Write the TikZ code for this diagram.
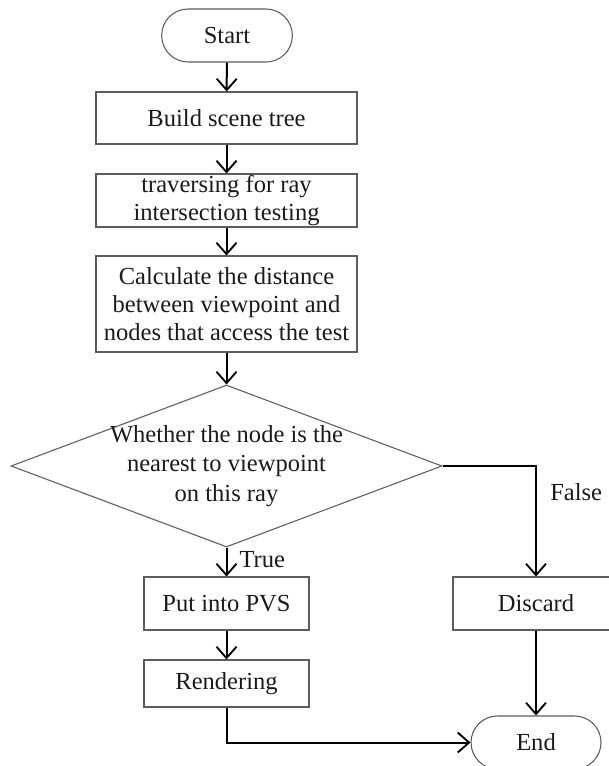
\documentclass[tikz,border=0pt]{standalone}
\usepackage{fontspec}
\setmainfont{Liberation Serif}
\usetikzlibrary{shapes.geometric,arrows.meta}
\definecolor{boxgray}{HTML}{5C5C5C}
\definecolor{txt}{HTML}{1A1A1A}
\begin{document}
\begin{tikzpicture}[x=0.75pt,y=-0.75pt,
  base/.style={inner sep=0pt, align=center, text=txt, font=\fontsize{18.4}{21}\selectfont},
  box/.style={base, draw=boxgray, line width=0.8pt},
  term/.style={box, rounded corners=19.8pt, minimum width=98pt, minimum height=39.75pt},
  decide/.style={draw=boxgray, line width=0.8pt, shape=diamond, inner sep=0pt, minimum width=323.25pt, minimum height=121.5pt},
  conn/.style={draw=black, line width=1.5pt, -{Straight Barb[length=8.5pt,width=15pt,line width=1.4pt]}},
  lbl/.style={base}
]
\useasboundingbox (0,0) rectangle (608,766);

\node[term] (start) at (227,35.5) {Start};
\node[box, minimum width=195.75pt, minimum height=39pt] (build) at (226.5,118) {Build scene tree};
\node[box, minimum width=195.75pt, minimum height=39.75pt] (trav) at (226.5,200.5) {traversing for ray\\intersection testing};
\node[box, minimum width=195.75pt, minimum height=72pt] (calc) at (226.5,304) {Calculate the distance\\between viewpoint and\\nodes that access the test};
\node[decide] (dia) at (226.5,466) {};
\node[base, font=\fontsize{18.4}{22}\selectfont] (diatext) at (226.5,466) {Whether the node is the\\nearest to viewpoint\\on this ray};
\node[box, minimum width=123.75pt, minimum height=39.75pt] (pvs) at (226.5,603.5) {Put into PVS};
\node[box, minimum width=123.75pt, minimum height=35.25pt] (ren) at (226.5,683.5) {Rendering};
\node[box, minimum width=124.5pt, minimum height=39.75pt] (dis) at (536,603.5) {Discard};
\node[term, minimum width=97.5pt] (end) at (536,742.5) {End};

\draw[conn] (start) -- (build);
\draw[conn] (build) -- (trav);
\draw[conn] (trav) -- (calc);
\draw[conn] (calc) -- (dia.north);
\draw[conn] (dia.south) -- node[lbl, right=9pt, pos=0.4] (truelbl) {True} (pvs);
\draw[conn] (pvs) -- (ren);
\draw[conn] (dia.east) -| node[lbl, pos=0.62, right=10pt] (falselbl) {False} (dis.north);
\draw[conn] (dis) -- (end);
\draw[conn] (ren.south) |- (end.west);
\end{tikzpicture}
\end{document}
